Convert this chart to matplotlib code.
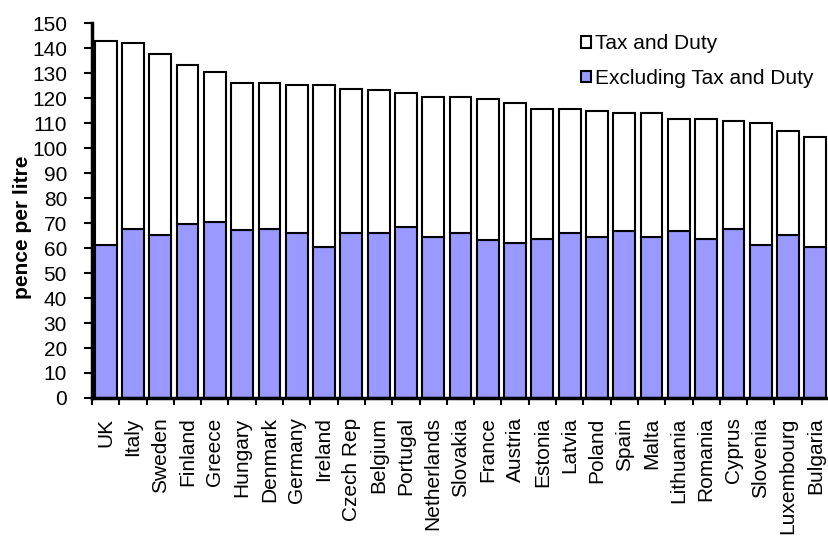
import matplotlib
matplotlib.use("Agg")
import matplotlib.pyplot as plt
import numpy as np

plt.rcParams["font.family"] = ["Liberation Sans", "DejaVu Sans"]

countries = ["UK", "Italy", "Sweden", "Finland", "Greece", "Hungary", "Denmark",
             "Germany", "Ireland", "Czech Rep", "Belgium", "Portugal", "Netherlands",
             "Slovakia", "France", "Austria", "Estonia", "Latvia", "Poland", "Spain",
             "Malta", "Lithuania", "Romania", "Cyprus", "Slovenia", "Luxembourg",
             "Bulgaria"]

total = [142.9, 142.2, 137.6, 133.4, 130.4, 126.2, 126.2, 125.3, 125.3, 123.8,
         123.1, 122.2, 120.6, 120.6, 119.7, 118.1, 115.8, 115.8, 115.0, 114.1,
         114.1, 111.8, 111.8, 111.0, 110.2, 107.0, 104.6]
excl_tax = [61.2, 67.7, 65.4, 69.5, 70.3, 67.2, 67.7, 66.2, 60.5, 66.2,
            66.2, 68.4, 64.5, 66.0, 63.2, 62.1, 63.7, 66.0, 64.5, 67.0,
            64.5, 67.0, 63.7, 67.7, 61.4, 65.4, 60.5]

total = np.array(total)
excl_tax = np.array(excl_tax)
tax = total - excl_tax

fig = plt.figure(figsize=(8.29, 5.40), dpi=100)
ax = fig.add_axes([0.111, 0.263, 0.889, 0.694])

x = np.arange(len(countries))
w = 0.8
ax.bar(x, excl_tax, w, color="#9999ff", edgecolor="black", linewidth=1.5,
       label="Excluding Tax and Duty", zorder=2)
ax.bar(x, tax, w, bottom=excl_tax, color="white", edgecolor="black",
       linewidth=1.5, label="Tax and Duty", zorder=2)

ax.set_xlim(-0.5, len(countries) - 0.5)
ax.set_ylim(0, 150)
ax.set_yticks(np.arange(0, 151, 10))
ax.set_xticks(x)
ax.set_xticklabels(countries, rotation=90, fontsize=15)
ax.set_xticks(np.arange(-0.5, len(countries), 1), minor=True)
ax.tick_params(axis="x", which="major", length=0, pad=14)
ax.tick_params(axis="x", which="minor", length=5, width=1.5, direction="out")
ax.tick_params(axis="y", length=6, width=1.5, labelsize=15, pad=12)

for s in ["top", "right"]:
    ax.spines[s].set_visible(False)
for s in ["left", "bottom"]:
    ax.spines[s].set_linewidth(2.5)

ax.set_ylabel("pence per litre", fontsize=15, fontweight="bold")
ax.yaxis.set_label_coords(-0.081, 0.456)

h, l = ax.get_legend_handles_labels()
ax.legend(h[::-1], l[::-1], loc="upper right", bbox_to_anchor=(1.004, 1.02),
          frameon=False, fontsize=15, handlelength=0.45, handleheight=0.45,
          handletextpad=0.2, labelspacing=0.75)

fig.savefig("out.png", dpi=100)
